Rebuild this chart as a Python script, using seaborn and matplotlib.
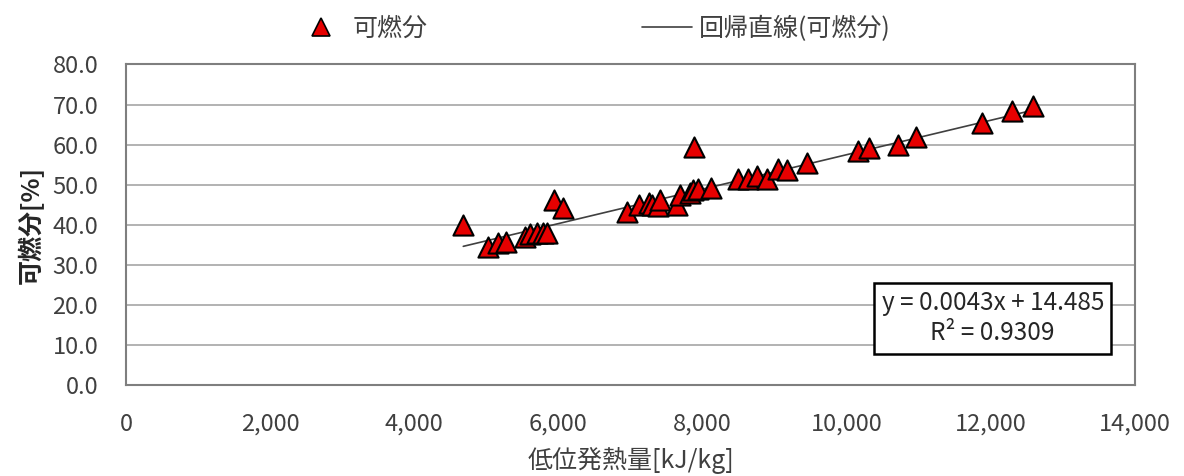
import numpy as np
import pandas as pd
import matplotlib
matplotlib.use("Agg")
import matplotlib.pyplot as plt
from matplotlib.lines import Line2D
from matplotlib.ticker import FuncFormatter, MultipleLocator
import seaborn as sns

# Lower heating value [kJ/kg] and combustible fraction [%]
heating_value = [4680, 5020, 5160, 5270, 5540, 5600, 5700, 5790, 5840, 5940,
                 6070, 6950, 7120, 7260, 7300, 7380, 7410, 7650, 7690, 7830,
                 7870, 7880, 7940, 8120, 8490, 8630, 8750, 8890, 9050, 9170,
                 9450, 10160, 10310, 10710, 10960, 11880, 12290, 12590]
combustible = [40.0, 34.4, 35.4, 35.7, 36.9, 37.7, 37.9, 38.0, 38.0, 46.2,
               44.2, 43.2, 44.9, 45.4, 44.9, 44.7, 46.2, 44.9, 47.4, 47.9,
               48.7, 59.4, 48.9, 49.2, 51.4, 51.4, 52.2, 51.4, 53.9, 53.7,
               55.4, 58.4, 59.2, 59.9, 61.9, 65.4, 68.4, 69.6]

# Linear regression result
slope = 0.0043
intercept = 14.485
r_squared = 0.9309

series_label = "可燃分"
fit_label = "回帰直線(可燃分)"
x_label = "低位発熱量[kJ/kg]"
y_label = "可燃分[%]"

sns.set_theme(style="white")
plt.rcParams["font.family"] = ["Noto Sans CJK JP", "DejaVu Sans"]

df = pd.DataFrame({"x": heating_value, "y": combustible})
fit_x = np.array([min(heating_value), max(heating_value)])
fit_df = pd.DataFrame({"x": fit_x, "y": slope * fit_x + intercept})

fig = plt.figure(figsize=(11.84, 4.76), dpi=100)
ax = fig.add_axes([0.1064, 0.1912, 0.8522, 0.6733])

text_color = "#404040"
ax.set_xlim(0, 14000)
ax.set_ylim(0, 80)
ax.yaxis.set_major_locator(MultipleLocator(10))
ax.xaxis.set_major_locator(MultipleLocator(2000))
ax.grid(axis="y", color="#a6a6a6", linewidth=1.2)
ax.set_axisbelow(True)

sns.lineplot(data=fit_df, x="x", y="y", ax=ax, color="#404040",
             linewidth=1.2, legend=False, zorder=2)
sns.scatterplot(data=df, x="x", y="y", ax=ax, marker="^", s=210,
                color="#e60000", edgecolor="black", linewidth=1.5,
                legend=False, zorder=3)

for side in ["left", "right", "top", "bottom"]:
    ax.spines[side].set_visible(True)
    ax.spines[side].set_color("#7f7f7f")
    ax.spines[side].set_linewidth(1.5)

ax.tick_params(axis="x", direction="in", length=6, width=1.2,
               color="#7f7f7f", labelsize=17, labelcolor=text_color, pad=20)
ax.tick_params(axis="y", direction="in", length=0, labelsize=17,
               labelcolor=text_color, pad=20)
ax.xaxis.set_major_formatter(FuncFormatter(lambda v, p: f"{v:,.0f}"))
ax.yaxis.set_major_formatter(FuncFormatter(lambda v, p: f"{v:.1f}"))

ax.set_xlabel(x_label, fontsize=18, color=text_color, labelpad=8)
ax.set_ylabel(y_label, fontsize=18, color="#262626", labelpad=6,
              fontweight="bold")

# Regression equation box
ax.text(0.859, 0.208, f"y = {slope}x + {intercept}\nR² = {r_squared}",
        transform=ax.transAxes, ha="center", va="center", fontsize=17.5,
        color="#262626", linespacing=1.2,
        bbox=dict(boxstyle="square,pad=0.3", facecolor="white",
                  edgecolor="black", linewidth=1.8))

handles = [
    Line2D([], [], linestyle="none", marker="^", markersize=13,
           markerfacecolor="#e60000", markeredgecolor="black",
           markeredgewidth=1.2, label=series_label),
    Line2D([], [], color="#404040", linewidth=1.2, label=fit_label),
]
fig.legend(handles=handles, loc="center", bbox_to_anchor=(0.501, 0.94),
           ncol=2, frameon=False, fontsize=18, labelcolor=text_color,
           columnspacing=8.6, handlelength=2.0, handletextpad=0.25)

fig.savefig("out.png", dpi=100)
